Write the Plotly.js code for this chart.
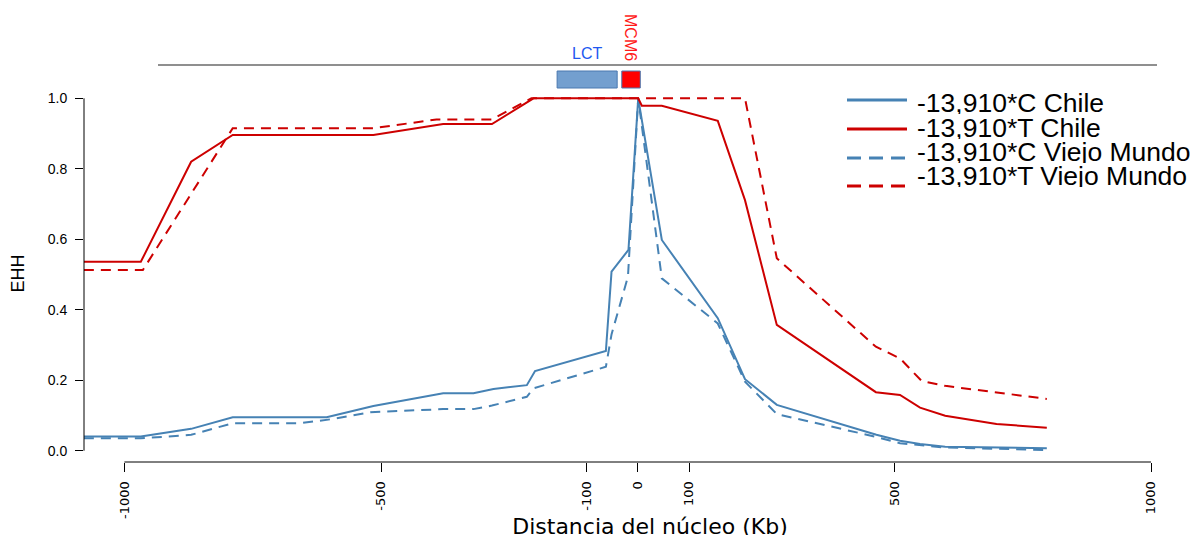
<!DOCTYPE html>
<html>
<head>
<meta charset="utf-8">
<script src="https://cdn.plot.ly/plotly-3.0.1.min.js"></script>
<style>
html,body{margin:0;padding:0;overflow:hidden;background:#ffffff;}
#chart{width:1260px;height:545px;}
</style>
</head>
<body>
<div id="chart"></div>
<script>
// ---------------- DATA ----------------
const seriesNames = ["-13,910*C Chile", "-13,910*T Chile", "-13,910*C Viejo Mundo", "-13,910*T Viejo Mundo"];

// -13,910*C Chile
const xCChile = [-1079, -968, -870, -789, -606, -515, -379, -320, -281, -216, -200, -62, -51, -18, 1, 47, 156, 209, 271, 465, 511, 550, 599, 699, 797];
const yCChile = [0.040, 0.040, 0.062, 0.095, 0.095, 0.127, 0.163, 0.163, 0.175, 0.186, 0.226, 0.283, 0.508, 0.570, 1.0, 0.598, 0.376, 0.203, 0.130, 0.045, 0.028, 0.019, 0.011, 0.009, 0.007];

// -13,910*T Chile
const xTChile = [-1079, -968, -870, -789, -515, -379, -284, -203, 1, 8, 47, 156, 209, 271, 464, 511, 550, 599, 699, 797];
const yTChile = [0.536, 0.536, 0.820, 0.896, 0.896, 0.927, 0.927, 1.0, 1.0, 0.979, 0.979, 0.936, 0.711, 0.357, 0.166, 0.158, 0.122, 0.099, 0.076, 0.065];

// -13,910*C Viejo Mundo
const xCVM = [-1079, -968, -870, -789, -657, -599, -521, -379, -320, -284, -216, -203, -62, -51, -19, 1, 47, 156, 209, 271, 465, 511, 599, 797];
const yCVM = [0.035, 0.035, 0.045, 0.078, 0.078, 0.089, 0.109, 0.118, 0.118, 0.128, 0.153, 0.177, 0.238, 0.330, 0.494, 1.0, 0.489, 0.361, 0.196, 0.104, 0.039, 0.021, 0.009, 0.002];

// -13,910*T Viejo Mundo
const xTVM = [-1079, -964, -789, -515, -392, -284, -207, 209, 271, 464, 511, 553, 599, 699, 797];
const yTVM = [0.513, 0.513, 0.915, 0.915, 0.940, 0.940, 1.0, 1.0, 0.546, 0.295, 0.262, 0.198, 0.184, 0.166, 0.147];

// axis ticks
const xTickVals = [-1000, -500, -100, 0, 100, 500, 1000];
const xTickText = ["-1000", "-500", "-100", "0", "100", "500", "1000"];
const yTickVals = [0, 0.2, 0.4, 0.6, 0.8, 1.0];
const yTickText = ["0.0", "0.2", "0.4", "0.6", "0.8", "1.0"];

// genes (Kb)
const geneNames = ["LCT", "MCM6"];
const geneStart = [-157, -31];
const geneEnd = [-40, 5];

// ---------------- STYLE ----------------
const BLUE = "#4682B4";
const RED = "#CD0000";
const W = 1260, H = 545;
const ML = 84, MR = 44, MT = 85, MB = 83;
const PW = W - ML - MR, PH = H - MT - MB;
const pxX = p => (p - ML) / PW;           // page pixel -> paper x
const pxY = p => (H - MB - p) / PH;       // page pixel -> paper y
const SANS = "Liberation Sans, Arial, sans-serif";
const DEJAVU = "DejaVu Sans, sans-serif";

const styles = [
  {color: BLUE, dash: "solid"},
  {color: RED, dash: "solid"},
  {color: BLUE, dash: "10px,7px"},
  {color: RED, dash: "10px,7px"}
];
const xs = [xCChile, xTChile, xCVM, xTVM];
const ys = [yCChile, yTChile, yCVM, yTVM];

const traces = seriesNames.map((n, i) => ({
  type: "scatter", mode: "lines", name: n,
  x: xs[i], y: ys[i],
  line: {color: styles[i].color, width: 2, dash: styles[i].dash},
  showlegend: false, hoverinfo: "skip"
}));
const ordered = [traces[2], traces[0], traces[3], traces[1]];

const shapes = [];
const annotations = [];

// top separator line
shapes.push({type: "line", xref: "paper", yref: "paper", x0: pxX(158), x1: pxX(1157), y0: pxY(65), y1: pxY(65),
  line: {color: "#6a6a6a", width: 1.3}});
// gene boxes
const geneFill = ["#739FCF", "#FF0000"];
const geneText = ["#2058F0", "#FF1A1A"];
geneNames.forEach((g, i) => {
  shapes.push({type: "rect", xref: "x", yref: "paper", x0: geneStart[i], x1: geneEnd[i], y0: pxY(88), y1: pxY(71),
    fillcolor: geneFill[i], line: {color: "#4A78B0", width: 1}});
});
annotations.push({xref: "x", yref: "paper", x: (geneStart[0] + geneEnd[0]) / 2, y: pxY(54), text: geneNames[0],
  showarrow: false, xanchor: "center", yanchor: "middle", font: {family: SANS, size: 16, color: geneText[0]}});
annotations.push({xref: "paper", yref: "paper", x: pxX(630), y: pxY(37), text: geneNames[1], textangle: 90,
  showarrow: false, xanchor: "center", yanchor: "middle", font: {family: SANS, size: 16, color: geneText[1]}});

// axis lines (R style, limited to tick range)
shapes.push({type: "line", xref: "paper", yref: "y", x0: 0, x1: 0, y0: 0, y1: 1, line: {color: "#000", width: 1}});
shapes.push({type: "line", xref: "x", yref: "paper", x0: -1000, x1: 1000, y0: 0, y1: 0, line: {color: "#000", width: 1}});

// manual legend
const legLineY = [100, 129, 158, 186];
const legTextY = [103, 128, 152, 176];
const legDash = ["solid", "solid", "14px,8px", "14px,8px"];
seriesNames.forEach((n, i) => {
  shapes.push({type: "line", xref: "paper", yref: "paper", x0: pxX(847), x1: pxX(907), y0: pxY(legLineY[i]), y1: pxY(legLineY[i]),
    line: {color: styles[i].color, width: 3, dash: legDash[i]}});
  annotations.push({xref: "paper", yref: "paper", x: pxX(915), y: pxY(legTextY[i]), text: n, showarrow: false,
    xanchor: "left", yanchor: "middle", height: 22, font: {family: SANS, size: 26.5, color: "#000"}});
});

const layout = {
  width: W, height: H,
  margin: {l: ML, r: MR, t: MT, b: MB, pad: 0},
  paper_bgcolor: "#fff", plot_bgcolor: "#fff",
  showlegend: false,
  xaxis: {
    range: [-1078.7, 1126.6], autorange: false,
    tickmode: "array", tickvals: xTickVals, ticktext: xTickText,
    ticks: "outside", ticklen: 9, tickwidth: 1, tickcolor: "#000",
    tickangle: -90, tickfont: {family: DEJAVU, size: 13, color: "#000"},
    ticklabelstandoff: 4,
    showgrid: false, zeroline: false, showline: false, automargin: false,
    title: {text: "Distancia del núcleo (Kb)", font: {family: DEJAVU, size: 22, color: "#000"}, standoff: 0}
  },
  yaxis: {
    range: [-0.0321, 1.0378], autorange: false,
    tickmode: "array", tickvals: yTickVals, ticktext: yTickText,
    ticks: "outside", ticklen: 8, tickwidth: 1, tickcolor: "#000",
    tickfont: {family: SANS, size: 14, color: "#000"},
    ticklabelstandoff: 5,
    showgrid: false, zeroline: false, showline: false, automargin: false,
    title: {text: "EHH", font: {family: SANS, size: 18, color: "#000"}, standoff: 18}
  },
  shapes: shapes,
  annotations: annotations
};

Plotly.newPlot("chart", ordered, layout, {displayModeBar: false, staticPlot: true});
</script>
</body>
</html>
